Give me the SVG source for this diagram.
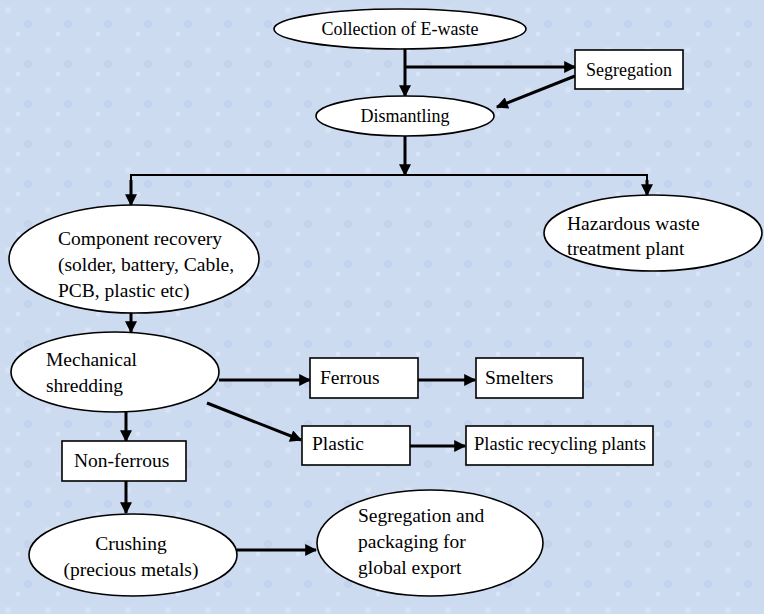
<svg xmlns="http://www.w3.org/2000/svg" width="764" height="614" viewBox="0 0 764 614">
<style>
.n{fill:#ffffff;stroke:#000;stroke-width:1.6}
.t{font-size:18px;fill:#000}
.b{font-size:19.5px}
.c{text-anchor:middle}
.e{stroke:#000;stroke-width:3;fill:none}
.e2{stroke:#000;stroke-width:2;fill:none}
</style>
<defs>
<marker id="ah" viewBox="0 0 10 10" refX="9" refY="5" markerWidth="4.2" markerHeight="4" orient="auto" markerUnits="strokeWidth">
<path d="M0,0 L10,5 L0,10 z" fill="#000"/>
</marker>
<pattern id="tex" width="40" height="40" patternUnits="userSpaceOnUse">
<rect width="40" height="40" fill="#cddbf1"/>
<circle cx="8" cy="10" r="3" fill="#d8e3f5"/>
<circle cx="28" cy="24" r="4" fill="#c4d4ee"/>
<circle cx="18" cy="34" r="2.5" fill="#d9e5f6"/>
</pattern>
</defs>
<rect width="764" height="614" fill="url(#tex)"/>

<g id="connectors">
<line class="e" x1="405" y1="48" x2="405" y2="96" marker-end="url(#ah)"/>
<line class="e" x1="405" y1="67" x2="575" y2="67" marker-end="url(#ah)"/>
<line class="e" x1="575" y1="76" x2="497" y2="107" marker-end="url(#ah)"/>
<line class="e" x1="405" y1="135" x2="405" y2="175" marker-end="url(#ah)"/>
<polyline class="e2" points="131,185 131,175 647,175 647,185"/>
<line class="e" x1="131" y1="180" x2="131" y2="205" marker-end="url(#ah)"/>
<line class="e" x1="647" y1="180" x2="647" y2="195" marker-end="url(#ah)"/>
<line class="e" x1="131" y1="313" x2="131" y2="332" marker-end="url(#ah)"/>
<line class="e" x1="219" y1="380" x2="310" y2="380" marker-end="url(#ah)"/>
<line class="e" x1="418" y1="380" x2="475" y2="380" marker-end="url(#ah)"/>
<line class="e" x1="207" y1="403" x2="301" y2="440" marker-end="url(#ah)"/>
<line class="e" x1="410" y1="446" x2="465" y2="446" marker-end="url(#ah)"/>
<line class="e" x1="126" y1="412" x2="126" y2="441" marker-end="url(#ah)"/>
<line class="e" x1="126" y1="481" x2="126" y2="513" marker-end="url(#ah)"/>
<line class="e" x1="237" y1="550" x2="316" y2="550" marker-end="url(#ah)"/>
</g>

<g font-family="'Liberation Serif', 'Times New Roman', Tinos, 'DejaVu Serif', serif">
<g id="collection">
<ellipse class="n" cx="400" cy="29" rx="126" ry="20"/>
<text class="t c" x="400" y="35">Collection of E-waste</text>
</g>
<g id="segregation">
<rect class="n" x="575" y="50" width="108" height="39"/>
<text class="t c" x="629" y="76">Segregation</text>
</g>
<g id="dismantling">
<ellipse class="n" cx="405" cy="116" rx="89" ry="20"/>
<text class="t c" x="405" y="122">Dismantling</text>
</g>
<g id="component">
<ellipse class="n" cx="134" cy="259" rx="125" ry="54"/>
<text class="t b" x="58" y="245">Component recovery</text>
<text class="t b" x="58" y="271">(solder, battery, Cable,</text>
<text class="t b" x="58" y="297">PCB, plastic etc)</text>
</g>
<g id="hazardous">
<ellipse class="n" cx="653" cy="233" rx="109" ry="38"/>
<text class="t b" x="567" y="230">Hazardous waste</text>
<text class="t b" x="567" y="255">treatment plant</text>
</g>
<g id="mechanical">
<ellipse class="n" cx="115" cy="372" rx="104" ry="40"/>
<text class="t b" x="46" y="366">Mechanical</text>
<text class="t b" x="46" y="392">shredding</text>
</g>
<g id="ferrous">
<rect class="n" x="310" y="358" width="108" height="40"/>
<text class="t b" x="320" y="384">Ferrous</text>
</g>
<g id="smelters">
<rect class="n" x="476" y="358" width="107" height="40"/>
<text class="t b" x="485" y="384">Smelters</text>
</g>
<g id="plastic">
<rect class="n" x="302" y="426" width="108" height="39"/>
<text class="t b" x="312" y="450">Plastic</text>
</g>
<g id="plastic-recycling">
<rect class="n" x="466" y="426" width="187" height="39"/>
<text class="t b" x="474" y="450" textLength="172" lengthAdjust="spacingAndGlyphs">Plastic recycling plants</text>
</g>
<g id="nonferrous">
<rect class="n" x="62" y="441" width="124" height="40"/>
<text class="t b" x="74" y="467">Non-ferrous</text>
</g>
<g id="crushing">
<ellipse class="n" cx="133" cy="555" rx="104" ry="41"/>
<text class="t b c" x="131" y="550">Crushing</text>
<text class="t b c" x="131" y="576">(precious metals)</text>
</g>
<g id="export">
<ellipse class="n" cx="430" cy="543" rx="113" ry="53"/>
<text class="t b" x="358" y="522">Segregation and</text>
<text class="t b" x="358" y="548">packaging for</text>
<text class="t b" x="358" y="574">global export</text>
</g>
</g>
</svg>
